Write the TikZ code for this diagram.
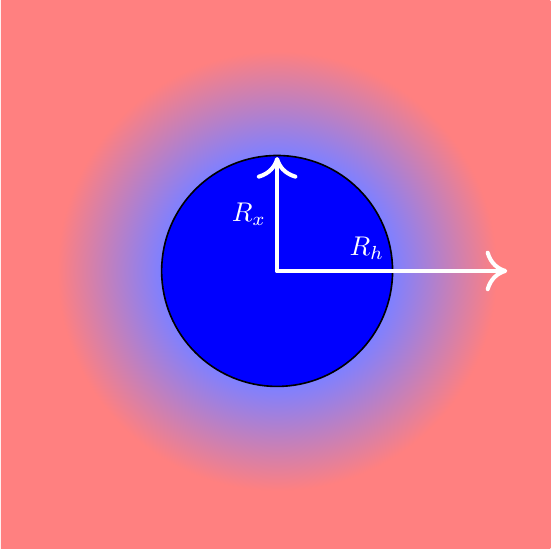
\documentclass[tikz,border=0pt]{standalone}
\usepackage{xcolor}
\usepackage{tikz}
\usetikzlibrary{arrows.meta}

\pgfdeclareradialshading{halo}{\pgfpoint{0cm}{0cm}}{%
  color(0bp)=(blue!50); color(43bp)=(blue!50);
  color(81bp)=(red!50); color(160bp)=(red!50)}

\begin{document}
\begin{tikzpicture}[
  core/.style={circle, minimum size=3cm, inner sep=0pt,
    fill=blue, draw=black, line width=0.6pt},
  radarr/.style={-{Computer Modern Rightarrow[length=8pt,width=15pt]},
    line width=1.5pt, line cap=round, color=white},
  radlab/.style={text=white, font=\normalsize},
]

  %% ── Background and halo ─────────────────────────────────────
  \useasboundingbox (-3.6,-3.69) rectangle (3.55,3.52);
  \fill[red!50] (-3.59,-3.6) rectangle (3.55,3.52);
  \begin{scope}
    \clip (-3.59,-3.6) rectangle (3.55,3.52);
    \node[inner sep=0pt] (glow) at (0,0) {\pgfuseshading{halo}};
  \end{scope}

  %% ── Core ────────────────────────────────────────────────────
  \node[core] (x) at (0,0) {};
  \coordinate (ctr) at (x.center);
  \coordinate (rxend) at (0,1.48);
  \coordinate (rhend) at (2.99,0);

  %% ── Radii ───────────────────────────────────────────────────
  \draw[radarr] (ctr) -- node[radlab, midway, left] {$R_x$} (rxend);
  \draw[radarr] (ctr) -- node[radlab, pos=0.39, above] {$R_h$} (rhend);

\end{tikzpicture}
\end{document}
